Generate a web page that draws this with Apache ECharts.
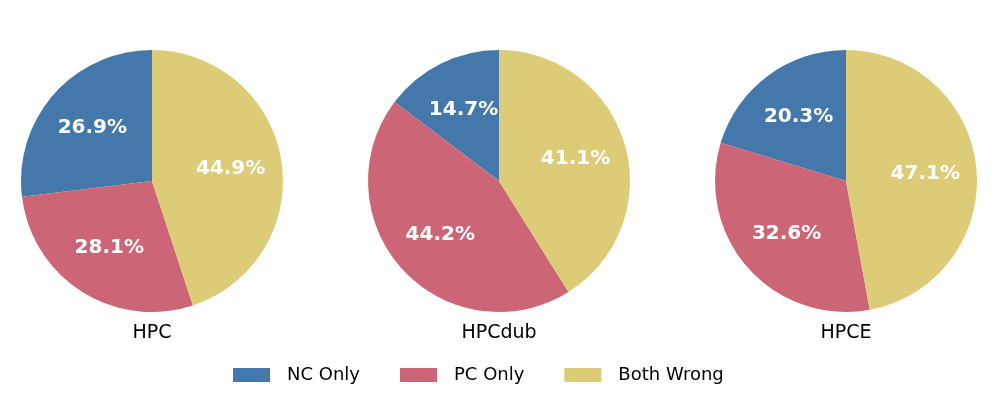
<!DOCTYPE html>
<html>
<head>
<meta charset="utf-8">
<script src="https://cdn.jsdelivr.net/npm/echarts@6/dist/echarts.min.js"></script>
<style>
  html, body { margin: 0; padding: 0; background: #fff; }
  #main { width: 997px; height: 402px; }
</style>
</head>
<body>
<div id="main"></div>
<script>
// data
const categories = ['NC Only', 'PC Only', 'Both Wrong'];
const panels = ['HPC', 'HPCdub', 'HPCE'];
const hpcValues = [26.9, 28.1, 44.9];
const hpcdubValues = [14.7, 44.2, 41.1];
const hpceValues = [20.3, 32.6, 47.1];
const allValues = [hpcValues, hpcdubValues, hpceValues];

const colors = ['#4477AA', '#CC6677', '#DDCC77'];
const centersX = [152, 499, 846];
const centerY = 181;
const R = 131;
const font = 'DejaVu Sans';

let myChart = echarts.init(document.getElementById('main'));

const series = [];
allValues.forEach(function (vals, i) {
    const data = vals.map(function (v, k) {
        return { name: categories[k], value: v };
    });
    // the slices
    series.push({
        type: 'pie',
        center: [centersX[i], centerY],
        radius: [0, R],
        startAngle: 90,
        clockwise: false,
        silent: true,
        label: { show: false },
        labelLine: { show: false },
        itemStyle: { borderWidth: 0 },
        data: data
    });
    // invisible twin, only for labels at ~0.6 * R
    series.push({
        type: 'pie',
        center: [centersX[i], centerY],
        radius: [0, R * 1.17],
        startAngle: 90,
        clockwise: false,
        silent: true,
        legendHoverLink: false,
        itemStyle: { color: 'rgba(0,0,0,0)', borderWidth: 0 },
        label: {
            show: true,
            position: 'inside',
            color: '#fff',
            fontFamily: font,
            fontWeight: 'bold',
            fontSize: 20,
            formatter: function (p) { return p.value.toFixed(1) + '%'; }
        },
        labelLine: { show: false },
        data: data.map(function (d) { return { name: d.name + ' ', value: d.value }; })
    });
});

const options = {
    animation: false,
    color: colors,
    title: panels.map(function (t, i) {
        return {
            text: t,
            left: centersX[i],
            top: 324,
            padding: 0,
            textAlign: 'center',
            textStyle: { fontFamily: font, fontWeight: 'normal', fontSize: 19, color: '#000' }
        };
    }),
    legend: {
        data: categories,
        top: 366,
        left: 233,
        padding: 0,
        itemWidth: 37,
        itemHeight: 14,
        itemGap: 40,
        icon: 'rect',
        textStyle: { fontFamily: font, fontSize: 18, color: '#000', padding: [0, 0, 0, 12] }
    },
    series: series
};
myChart.setOption(options);
</script>
</body>
</html>
